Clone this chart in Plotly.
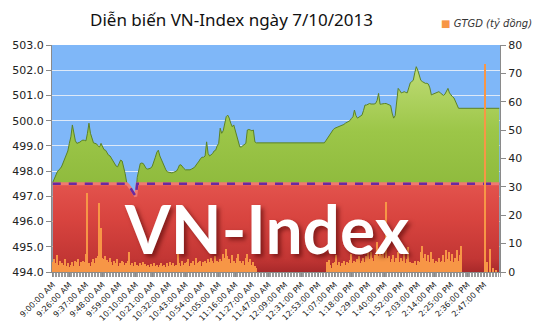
import plotly.graph_objects as go

TITLE = "Diễn biến VN-Index ngày 7/10/2013"
LEGEND_NAME = "GTGD (tỷ đồng)"
REF = 497.5

TICK_LABELS = ["9:00:00 AM", "9:26:00 AM", "9:37:00 AM", "9:48:00 AM", "9:59:00 AM",
               "10:10:00 AM", "10:21:00 AM", "10:32:00 AM", "10:43:00 AM", "10:54:00 AM",
               "11:05:00 AM", "11:16:00 AM", "11:27:00 AM", "11:47:00 AM", "12:09:00 PM",
               "12:31:00 PM", "12:53:00 PM", "1:07:00 PM", "1:18:00 PM", "1:29:00 PM",
               "1:40:00 PM", "1:52:00 PM", "2:03:00 PM", "2:14:00 PM", "2:25:00 PM",
               "2:36:00 PM", "2:47:00 PM"]
LABEL_STEP = 11

INDEX = [
    497.55, 497.70, 497.85, 497.97, 498.05, 498.10, 498.20, 498.35, 498.45, 498.65,
    498.80, 499.10, 499.36, 499.83, 499.45, 499.20, 499.10, 499.12, 499.15, 499.20,
    499.23, 499.22, 499.20, 499.50, 499.90, 499.50, 499.30, 499.12, 499.10, 499.08,
    499.00, 498.96, 499.10, 498.95, 498.85, 498.83, 498.70, 498.63, 498.60, 498.50,
    498.37, 498.30, 498.20, 498.17, 498.35, 498.44, 498.40, 498.20, 497.90, 497.55,
    497.45, 497.38, 497.28, 497.18, 497.08, 497.00, 497.75, 498.10, 498.30, 498.32,
    498.30, 498.20, 498.10, 498.08, 498.10, 498.12, 498.20, 498.35, 498.55, 498.75,
    498.83, 498.60, 498.45, 498.30, 498.20, 498.05, 497.97, 497.95, 497.95, 497.93,
    497.95, 497.97, 498.00, 498.10, 498.24, 498.25, 498.15, 498.10, 498.05, 498.04,
    498.04, 498.05, 498.08, 498.10, 498.15, 498.24, 498.30, 498.40, 498.50, 498.55,
    498.55, 498.60, 499.16, 498.70, 498.60, 498.65, 498.70, 498.80, 498.83, 499.00,
    499.10, 499.70, 499.50, 499.60, 499.85, 500.16, 500.22, 500.10, 499.90, 499.76,
    499.83, 499.60, 499.36, 499.10, 498.96, 498.96, 499.00, 499.05, 499.10, 499.63,
    499.65, 499.63, 499.60, 499.63, 499.16, 499.12, 499.12, 499.12, 499.12, 499.12,
    499.12, 499.12, 499.12, 499.12, 499.12, 499.12, 499.12, 499.12, 499.12, 499.12,
    499.12, 499.12, 499.12, 499.12, 499.12, 499.12, 499.12, 499.12, 499.12, 499.12,
    499.12, 499.12, 499.12, 499.12, 499.12, 499.12, 499.12, 499.12, 499.12, 499.12,
    499.12, 499.12, 499.12, 499.12, 499.12, 499.12, 499.12, 499.12, 499.12, 499.12,
    499.12, 499.20, 499.30, 499.40, 499.50, 499.60, 499.65, 499.70, 499.72, 499.75,
    499.76, 499.78, 499.80, 499.85, 499.90, 499.93, 499.96, 500.00, 500.09, 500.15,
    500.42, 500.20, 500.10, 500.15, 500.20, 500.22, 500.40, 500.62, 500.62, 500.65,
    500.68, 500.66, 500.65, 500.66, 500.68, 500.80, 501.08, 500.65, 500.66, 500.68,
    500.68, 500.68, 500.65, 500.62, 500.60, 500.30, 500.10, 500.20, 500.68, 501.28,
    501.20, 501.10, 501.12, 501.15, 501.12, 501.10, 501.30, 501.50, 501.55, 501.60,
    501.90, 502.14, 502.00, 501.80, 501.60, 501.55, 501.50, 501.48, 501.48, 501.45,
    501.30, 501.02, 501.05, 501.08, 501.10, 501.12, 501.15, 501.10, 501.05, 501.00,
    501.05, 501.15, 501.28, 501.10, 501.00, 500.95, 500.90, 500.75, 500.60, 500.49,
    500.49, 500.49, 500.49, 500.49, 500.49, 500.49, 500.49, 500.49, 500.49, 500.49,
    500.49, 500.49, 500.49, 500.49, 500.49, 500.49, 500.49, 500.49, 500.49, 500.49,
    500.49, 500.49, 500.49, 500.49, 500.49, 500.49, 500.49,
]

VOLUME = [
    3.5, 4.5, 3.0, 5.9, 2.5, 4.0, 3.0, 2.5, 4.5, 2.2,
    3.0, 1.8, 2.5, 3.5, 2.0, 3.8, 3.5, 4.5, 2.2, 3.5,
    4.0, 3.5, 6.5, 27.8, 3.0, 2.0, 3.5, 4.5, 3.0, 5.0,
    5.5, 24.2, 15.4, 5.0, 4.5, 5.5, 4.2, 3.5, 5.0, 3.5,
    2.5, 4.0, 3.0, 4.5, 2.2, 3.0, 4.0, 3.5, 2.5, 3.0,
    4.0, 7.1, 2.5, 3.0, 2.2, 3.5, 2.5, 2.0, 3.0, 2.5,
    3.5, 2.8, 2.0, 2.5, 1.8, 2.8, 2.2, 3.0, 2.0, 2.5,
    1.8, 2.5, 3.2, 2.0, 2.5, 1.8, 3.0, 2.2, 3.5, 2.5,
    3.0, 2.0, 2.5, 6.5, 3.0, 2.2, 4.0, 2.5, 3.0, 3.5,
    4.5, 2.0, 3.0, 4.0, 2.5, 5.0, 3.0, 3.5, 4.0, 2.2,
    3.5, 4.0, 3.0, 4.5, 3.5, 5.1, 4.0, 3.0, 5.6, 4.0,
    3.5, 4.5, 4.0, 6.5, 5.0, 8.0, 5.5, 4.5, 3.0, 5.9,
    4.0, 3.0, 5.0, 6.5, 4.0, 3.0, 4.0, 2.5, 5.0, 6.3,
    3.5, 4.5, 2.5, 3.5, 2.0, 1.5, 0, 0, 0, 0,
    0, 0, 0, 0, 0, 0, 0, 0, 0, 0,
    0, 0, 0, 0, 0, 0, 0, 0, 0, 0,
    0, 0, 0, 0, 0, 0, 0, 0, 0, 0,
    0, 0, 0, 0, 0, 0, 0, 0, 0, 0,
    0, 0, 3.5, 4.2, 2.5, 1.5, 3.0, 3.5, 6.0, 2.5,
    3.5, 2.0, 3.0, 4.0, 2.5, 3.5, 3.0, 4.2, 6.5, 3.0,
    4.0, 3.5, 4.5, 5.5, 3.0, 4.0, 5.0, 3.5, 5.5, 7.7,
    4.5, 7.0, 5.0, 4.0, 6.0, 10.6, 5.5, 8.0, 6.0, 9.0,
    5.0, 24.7, 5.0, 5.5, 3.5, 4.5, 6.0, 3.5, 5.0, 7.0,
    3.5, 5.0, 4.0, 6.5, 3.0, 4.5, 8.7, 3.5, 3.0, 3.0,
    4.0, 2.5, 4.0, 3.5, 7.1, 9.0, 5.0, 6.5, 4.0, 5.9,
    3.5, 7.0, 4.5, 3.0, 4.0, 3.5, 5.0, 3.5, 4.0, 5.9,
    3.5, 7.7, 4.5, 7.0, 4.0, 6.5, 3.5, 5.0, 7.7, 4.0,
    6.0, 9.0, 0, 0, 0, 0, 0, 0, 0, 0,
    0, 0, 0, 0, 0, 0, 0, 73.3, 3.6, 0,
    8.0, 0, 1.3, 0, 0.5, 0, 0,
]

N = len(INDEX)
X = list(range(N))
RED = [min(v, REF) for v in INDEX]

fig = go.Figure()

# VN-Index green area
fig.add_trace(go.Scatter(
    x=X, y=INDEX, mode="lines", fill="tozeroy",
    line=dict(color="#5b8226", width=1),
    fillgradient=dict(type="vertical",
                      colorscale=[[0, "#86b336"], [0.55, "#9cc648"], [1, "#c4df7c"]],
                      start=496, stop=502.5),
    showlegend=False, hoverinfo="skip"))

# Red area below reference
fig.add_trace(go.Scatter(
    x=X, y=RED, mode="lines", fill="tozeroy",
    line=dict(color="#ef7a70", width=3),
    fillgradient=dict(type="vertical",
                      colorscale=[[0, "#a8292a"], [0.15, "#c23634"], [0.6, "#d8443f"], [1, "#e3534d"]],
                      start=494, stop=497.5),
    showlegend=False, hoverinfo="skip"))

# dashed reference line
fig.add_trace(go.Scatter(
    x=X, y=RED, mode="lines",
    line=dict(color="#6a2aa0", width=2.5, dash="8px,8px"),
    showlegend=False, hoverinfo="skip"))

# Volume bars
fig.add_trace(go.Bar(
    x=X, y=VOLUME, yaxis="y2", marker=dict(color="#f79646", line=dict(width=0)),
    width=1.0, name=LEGEND_NAME, showlegend=False, hoverinfo="skip"))

axis_font = dict(family="DejaVu Sans", size=11, color="#222222")

fig.update_layout(
    width=535, height=335,
    margin=dict(l=52, r=35, t=45, b=63),
    paper_bgcolor="white", plot_bgcolor="#7fb7f8",
    bargap=0,
    xaxis=dict(range=[-0.5, N - 0.5],
               tickvals=[i * LABEL_STEP for i in range(len(TICK_LABELS))],
               ticktext=TICK_LABELS, tickangle=-45,
               tickfont=dict(family="DejaVu Sans", size=8, color="#222222"),
               showgrid=False, zeroline=False,
               showline=True, linecolor="#8a8a8a", linewidth=1,
               ticks="outside", ticklen=4, tickcolor="#8a8a8a",
               minor=dict(dtick=1, tick0=0.5, ticks="outside", ticklen=4, tickcolor="#9a9a9a")),
    yaxis=dict(range=[494, 503], dtick=1, tick0=494, tickformat=".1f",
               tickfont=axis_font, showgrid=True, gridcolor="#dde9f8", gridwidth=1,
               zeroline=False, showline=True, linecolor="#8a8a8a", linewidth=1,
               ticks="outside", ticklen=5, tickcolor="#8a8a8a"),
    yaxis2=dict(range=[0, 80], dtick=10, overlaying="y", side="right",
                tickfont=axis_font, showgrid=False, zeroline=False,
                showline=True, linecolor="#8a8a8a", linewidth=1,
                ticks="outside", ticklen=5, tickcolor="#8a8a8a"),
    annotations=[
        dict(text=TITLE, xref="paper", yref="paper", x=(231 - 52) / 448, y=(272 - 19) / 227,
             xanchor="center", yanchor="middle", showarrow=False,
             font=dict(family="Noto Sans", size=17, color="#111111")),
        dict(text="<span style='color:#f79646'>■</span> " + LEGEND_NAME,
             xref="paper", yref="paper", x=(534 - 52) / 448, y=(272 - 24) / 227,
             xanchor="right", yanchor="middle", showarrow=False,
             font=dict(family="DejaVu Sans", size=10, color="#333333", style="italic")),
        dict(text="VN-Index", xref="paper", yref="y", x=(266.5 - 52) / 448, y=495.74,
             xanchor="center", yanchor="middle", showarrow=False,
             font=dict(family="Lato", size=66, color="white", weight="bold",
                       shadow="3px 3px 4px rgba(70,0,0,0.55)")),
    ],
)

fig.write_html("out.html")
